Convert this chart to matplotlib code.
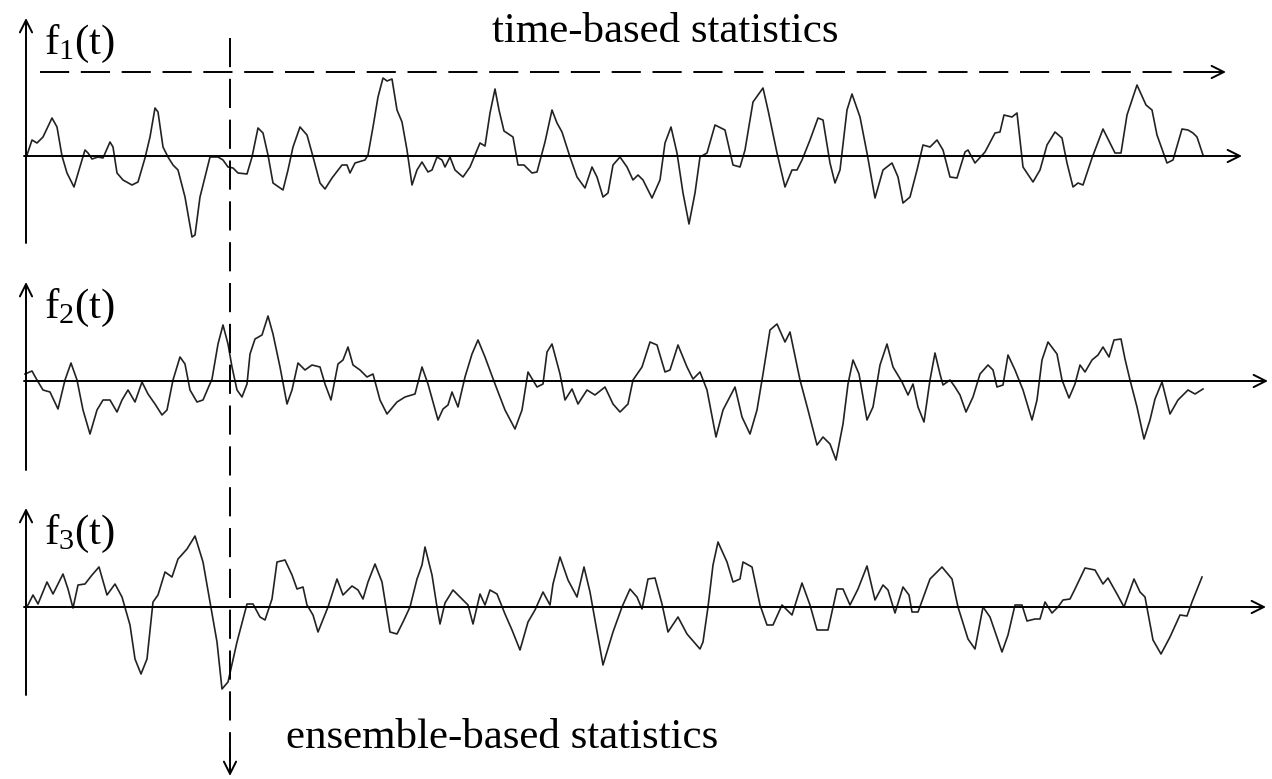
import matplotlib.pyplot as plt

# sample records: time position and amplitude (px above the zero line)
t1 = [27, 32, 37, 43, 52, 57, 62, 67, 74, 79, 85, 88, 92, 98, 103, 110, 113, 117, 123, 132,
      138, 145, 150, 155, 158, 163, 168, 173, 178, 185, 192, 195, 200, 205, 210, 218, 223, 228,
      233, 238, 247, 252, 258, 263, 268, 273, 283, 288, 293, 300, 307, 312, 320, 325, 332, 342,
      347, 350, 355, 365, 368, 373, 378, 383, 387, 392, 397, 402, 407, 412, 417, 422, 428, 432,
      437, 442, 445, 450, 455, 463, 470, 475, 480, 485, 490, 495, 499, 504, 513, 518, 524, 532,
      537, 545, 552, 557, 562, 570, 577, 585, 592, 597, 603, 608, 613, 620, 627, 633, 638, 643,
      652, 660, 665, 671, 677, 683, 689, 695, 700, 707, 715, 725, 733, 740, 745, 753, 763, 768,
      777, 785, 792, 797, 802, 810, 818, 823, 830, 835, 840, 847, 852, 860, 867, 875, 883, 892,
      898, 903, 910, 917, 923, 930, 937, 943, 950, 957, 965, 968, 975, 985, 995, 1000, 1004,
      1012, 1017, 1023, 1033, 1040, 1047, 1055, 1062, 1067, 1073, 1078, 1083, 1092, 1103, 1115,
      1121, 1127, 1137, 1146, 1152, 1157, 1167, 1173, 1182, 1188, 1193, 1197, 1203]
f1 = [1, 16, 13, 19, 38, 29, 0, -17, -31, -14, 6, 3, -3, -1, -2, 14, 9, -17, -24, -29,
      -26, -2, 19, 48, 44, 9, -1, -9, -14, -41, -81, -79, -41, -21, -1, -1, -4, -11,
      -12, -17, -18, -1, 28, 23, 1, -27, -34, -14, 9, 29, 21, 3, -27, -33, -22, -9,
      -9, -17, -7, -4, 1, 29, 59, 78, 75, 77, 46, 34, 6, -29, -14, -6, -16, -14,
      -1, -4, -11, -1, -14, -21, -11, 1, 13, 10, 43, 67, 46, 25, 19, -9, -9, -17,
      -16, 14, 46, 33, 24, -1, -21, -32, -11, -21, -41, -37, -9, -1, -11, -24, -19, -24,
      -42, -24, 13, 29, 3, -37, -68, -37, -1, 3, 31, 26, -9, -11, 6, 54, 68, 46,
      3, -31, -14, -14, -4, 16, 38, 36, -7, -27, -14, 46, 62, 39, 3, -42, -14, -7,
      -21, -47, -41, -14, 11, 9, 16, 6, -21, -22, 4, 6, -7, 4, 23, 24, 41,
      39, 43, -11, -26, -14, 11, 24, 18, -7, -31, -27, -29, -2, 27, 3,
      3, 41, 71, 51, 46, 21, -7, -4, 27, 26, 23, 19, 1]

t2 = [25, 32, 37, 43, 50, 58, 65, 71, 77, 83, 90, 97, 103, 110, 117, 122, 128, 135, 142, 148,
      155, 162, 167, 173, 180, 185, 190, 197, 203, 212, 218, 223, 228, 232, 237, 242, 247, 250,
      255, 262, 268, 273, 280, 287, 292, 298, 305, 312, 320, 325, 331, 338, 343, 348, 353, 360,
      367, 373, 380, 387, 397, 405, 415, 422, 428, 438, 443, 448, 452, 458, 465, 472, 478, 485,
      495, 505, 515, 522, 528, 537, 543, 547, 552, 560, 565, 572, 578, 587, 595, 605, 613, 620,
      628, 633, 642, 650, 657, 665, 670, 678, 687, 693, 700, 707, 716, 723, 735, 742, 750, 757,
      763, 770, 777, 785, 790, 800, 808, 817, 823, 830, 836, 843, 848, 853, 859, 867, 873, 880,
      887, 893, 902, 908, 913, 918, 924, 930, 935, 940, 943, 950, 955, 960, 966, 973, 980, 988,
      993, 997, 1003, 1008, 1015, 1023, 1032, 1037, 1042, 1048, 1057, 1062, 1069, 1075, 1080,
      1085, 1092, 1098, 1103, 1109, 1114, 1121, 1125, 1130, 1137, 1144, 1150, 1155, 1162, 1170,
      1178, 1188, 1195, 1203]
f2 = [7, 10, 1, -9, -11, -28, 1, 18, 1, -29, -53, -29, -19, -19, -31, -19, -9, -21, -1, -13,
      -23, -34, -29, 1, 24, 17, -9, -21, -19, 2, 37, 56, 37, 14, -9, -16, -3, 27,
      42, 46, 65, 47, 14, -23, -9, 18, 11, 16, 14, -3, -19, 17, 21, 34, 16, 11,
      4, 7, -19, -33, -21, -16, -13, 14, -3, -39, -28, -24, -11, -26, 4, 27, 41, 24,
      -3, -29, -48, -29, 9, -6, -3, 29, 37, 7, -19, -8, -23, -9, -14, -6, -23, -31,
      -23, 1, 14, 39, 36, 9, 11, 36, 14, 2, 9, -9, -56, -29, -6, -36, -53, -29,
      7, 51, 57, 39, 49, 1, -29, -64, -56, -63, -79, -43, -3, 21, 7, -39, -26, 16,
      37, 14, -1, -14, -3, -26, -41, 1, 28, 7, -4, 1, -6, -14, -31, -16, 7, 16,
      11, -6, -4, 26, 11, -9, -39, -19, 21, 39, 27, 1, -17, -3, 16,
      9, 21, 26, 34, 24, 41, 42, 22, 1, -26, -58, -39, -18, -1, -33,
      -19, -9, -13, -8]

t3 = [25, 28, 33, 38, 47, 53, 63, 68, 73, 78, 85, 92, 99, 107, 115, 122, 130, 135, 141, 147,
      153, 158, 165, 172, 178, 187, 195, 203, 210, 217, 222, 228, 237, 247, 253, 260, 265, 272,
      277, 285, 292, 297, 303, 307, 313, 318, 328, 337, 343, 352, 358, 363, 368, 375, 382, 390,
      397, 403, 410, 417, 422, 425, 432, 437, 440, 445, 453, 462, 468, 473, 480, 485, 490, 497,
      505, 512, 520, 528, 535, 543, 550, 553, 560, 568, 577, 584, 590, 595, 603, 612, 613, 622,
      630, 637, 642, 648, 655, 662, 668, 678, 687, 700, 703, 708, 713, 718, 727, 733, 740, 743,
      752, 760, 767, 773, 782, 787, 792, 802, 810, 817, 828, 837, 843, 850, 858, 867, 875, 883,
      888, 895, 903, 909, 912, 918, 930, 942, 952, 958, 968, 975, 983, 990, 1002, 1008, 1015,
      1022, 1027, 1035, 1040, 1045, 1052, 1058, 1063, 1070, 1075, 1085, 1095, 1103, 1108, 1117,
      1124, 1134, 1140, 1145, 1153, 1161, 1170, 1180, 1187, 1192, 1202]
f3 = [0, 2, 12, 3, 25, 13, 33, 18, -1, 22, 23, 32, 40, 12, 23, 10, -18, -52, -67, -52,
      5, 12, 35, 30, 48, 58, 71, 45, 5, -35, -82, -75, -35, 3, 3, -10, -13, 8,
      45, 47, 32, 18, 20, 2, -8, -25, 0, 28, 12, 21, 17, 8, 25, 43, 25, -25,
      -27, -15, 0, 28, 42, 60, 32, 0, -17, 4, 17, 8, 2, -17, 13, 2, 17, 13,
      -7, -23, -43, -15, -3, 15, 2, 23, 50, 27, 10, 40, 15, -13, -58, -28, -25, 0,
      18, 10, -2, 28, 29, 3, -25, -10, -27, -42, -35, 0, 42, 65, 45, 25, 28, 45,
      40, 2, -18, -18, 2, -3, -8, 24, 2, -23, -23, 18, 18, 2, 18, 41, 7, 22,
      17, -6, 20, 12, -5, -5, 28, 40, 28, 0, -32, -42, 0, -10, -45, -28, 2,
      2, -14, -12, -12, 5, -6, 0, 7, 8, 18, 39, 37, 23, 29, 13,
      0, 28, 15, 10, -33, -47, -30, -8, -9, 5, 30]

labels = ['1', '2', '3']
baselines = [156, 381, 607]
axis_bottom = [243, 470, 695]
axis_top = [18, 282, 508]
axis_right = [1242, 1268, 1266]

fig = plt.figure(figsize=(12.72, 7.79), dpi=100)
ax = fig.add_axes([0, 0, 1, 1])
ax.set_xlim(0, 1272)
ax.set_ylim(779, 0)
ax.axis('off')

arrow = dict(arrowstyle='->', color='black', lw=1.4, mutation_scale=22, shrinkA=0, shrinkB=0)
serif = 'Liberation Serif'

for i, (t, f) in enumerate([(t1, f1), (t2, f2), (t3, f3)]):
    b = baselines[i]
    # axes of each record
    ax.annotate('', xy=(26, axis_top[i]), xytext=(26, axis_bottom[i]), arrowprops=arrow)
    ax.annotate('', xy=(axis_right[i], b), xytext=(24, b), arrowprops=arrow)
    ax.plot(t, [b - v for v in f], color='#222222', lw=1.2)
    ax.text(44, axis_top[i] + 26, r'$\mathregular{f_{%s}(t)}$' % labels[i],
            fontsize=31, family=serif, ha='left', va='center')

# time-based statistics (dashed, horizontal)
ax.plot([40, 1215], [72, 72], color='black', lw=1.4, ls=(0, (15, 6)))
ax.annotate('', xy=(1226, 72), xytext=(1200, 72), arrowprops=arrow)
ax.text(665, 32, 'time-based statistics', fontsize=31, family=serif, ha='center', va='center')

# ensemble-based statistics (dashed, vertical)
ax.plot([230, 230], [38, 765], color='black', lw=1.4, ls=(0, (15, 6)))
ax.annotate('', xy=(230, 776), xytext=(230, 750), arrowprops=arrow)
ax.text(502, 738, 'ensemble-based statistics', fontsize=31, family=serif, ha='center', va='center')

fig.savefig('out.png', dpi=100)
